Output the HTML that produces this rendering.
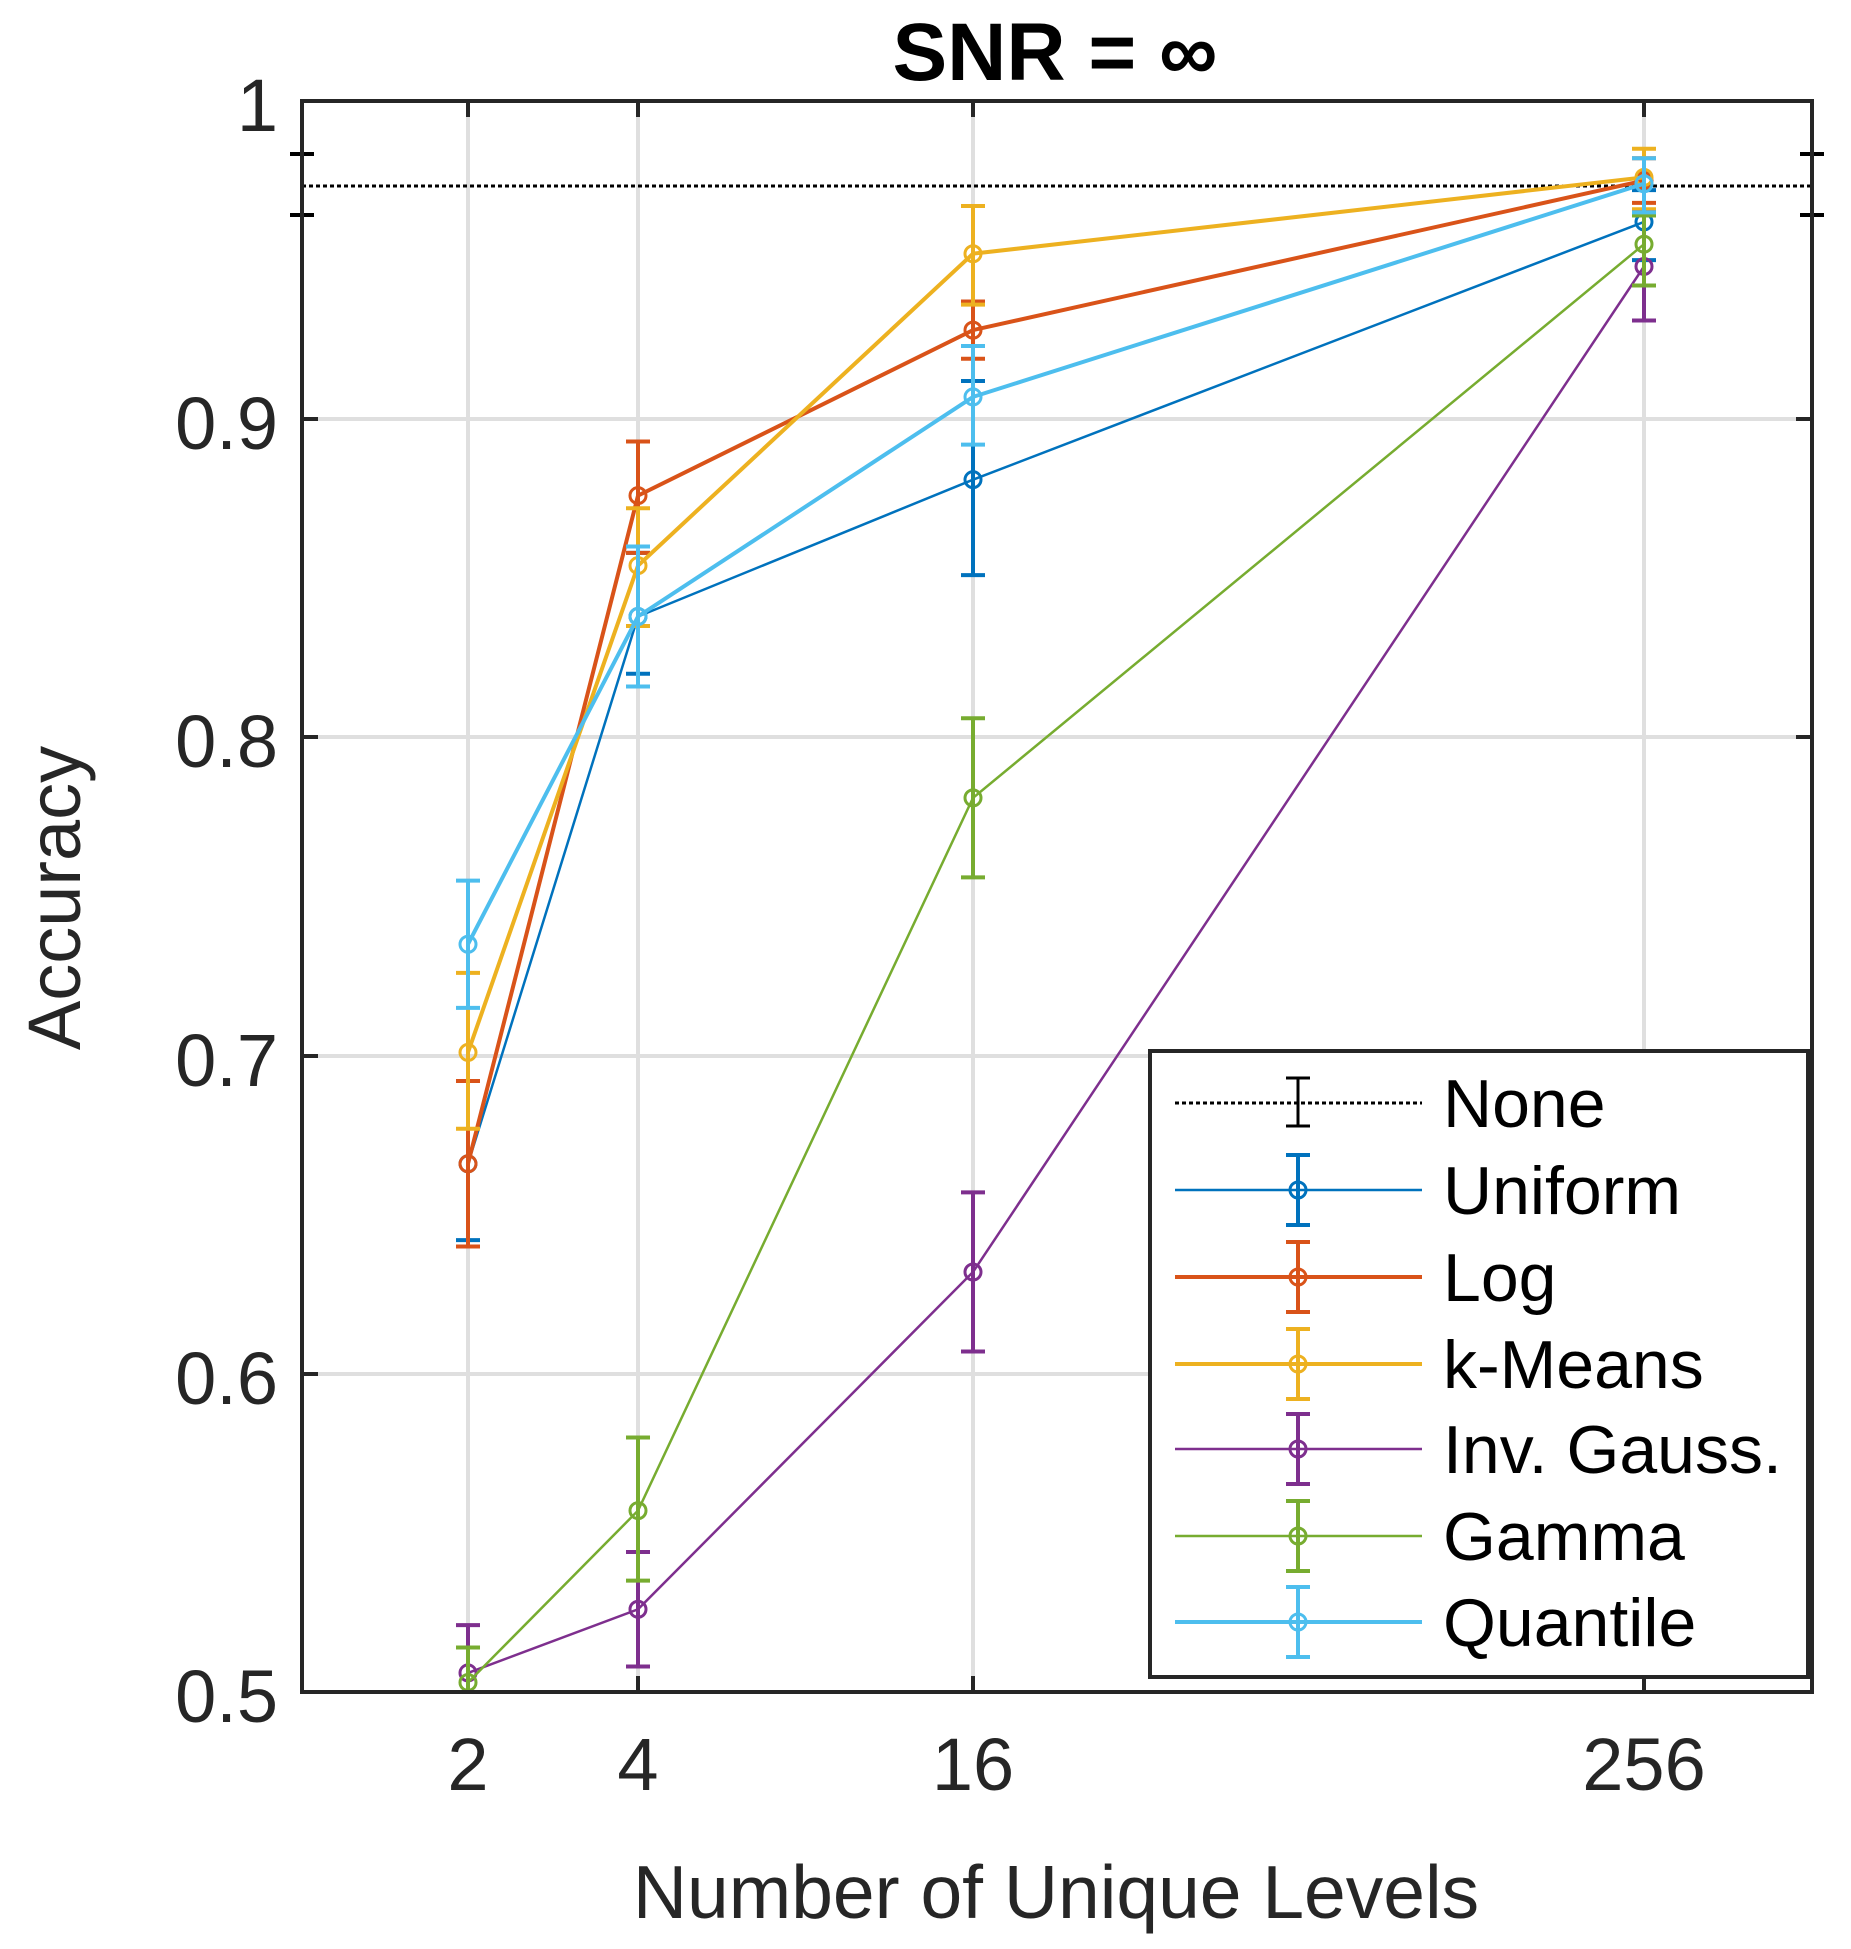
<!DOCTYPE html>
<html><head><meta charset="utf-8"><style>html,body{margin:0;padding:0;background:#fff}svg{display:block}</style></head>
<body>
<svg width="1851" height="1949" viewBox="0 0 1851 1949" xmlns="http://www.w3.org/2000/svg" font-family="Liberation Sans, Arial, sans-serif">
<rect width="1851" height="1949" fill="#fff"/>
<g stroke="#dfdfdf" stroke-width="4">
<line x1="302" x2="1812" y1="419" y2="419"/><line x1="302" x2="1812" y1="737" y2="737"/>
<line x1="302" x2="1812" y1="1056" y2="1056"/><line x1="302" x2="1812" y1="1374" y2="1374"/>
<line x1="468" x2="468" y1="101" y2="1692"/><line x1="638" x2="638" y1="101" y2="1692"/>
<line x1="973" x2="973" y1="101" y2="1692"/><line x1="1644" x2="1644" y1="101" y2="1692"/>
</g>
<g stroke="#262626" stroke-width="4">
<path d="M302 419h16M302 737h16M302 1056h16M302 1374h16M1812 419h-16M1812 737h-16M1812 1056h-16M1812 1374h-16"/>
<path d="M468 101v16M638 101v16M973 101v16M1644 101v16M468 1692v-16M638 1692v-16M973 1692v-16M1644 1692v-16"/>
</g>
<line x1="302" x2="1812" y1="186" y2="186" stroke="#000" stroke-width="3" stroke-dasharray="4 3"/>
<g stroke="#000" stroke-width="4"><path d="M302 154v61M290 154h24M290 215h24M1812 154v61M1800 154h24M1800 215h24"/></g>
<g id="series" fill="none"></g>
<rect x="302" y="101" width="1510" height="1591" fill="none" stroke="#262626" stroke-width="4"/>
<rect x="1150" y="1051" width="658" height="626" fill="#fff" stroke="#262626" stroke-width="4"/>
<g id="legend"></g>
<g fill="#262626" font-size="74" text-anchor="end">
<text x="278" y="131">1</text><text x="278" y="449">0.9</text><text x="278" y="767">0.8</text>
<text x="278" y="1086">0.7</text><text x="278" y="1404">0.6</text><text x="278" y="1722">0.5</text>
</g>
<g fill="#262626" font-size="74" text-anchor="middle">
<text x="468" y="1790">2</text><text x="638" y="1790">4</text><text x="973" y="1790">16</text><text x="1644" y="1790">256</text>
<text x="1056" y="1918" font-size="75">Number of Unique Levels</text>
<text transform="translate(80,898) rotate(-90)" font-size="74">Accuracy</text>
</g>
<text x="1055" y="80" font-size="82" font-weight="bold" text-anchor="middle" fill="#000">SNR = ∞</text>
<g fill="#000" font-size="68">
<text x="1443" y="1127">None</text><text x="1443" y="1214">Uniform</text><text x="1443" y="1301">Log</text>
<text x="1443" y="1388">k-Means</text><text x="1443" y="1473">Inv. Gauss.</text><text x="1443" y="1560">Gamma</text><text x="1443" y="1646">Quantile</text>
</g>
<script>
(function(){
var ns="http://www.w3.org/2000/svg";
var X=[468,638,973,1644];
function Y(v){return 101+(1-v)*3182;}
var S=[
 {c:"#0072BD",w:2.5,d:[[.666,.642,.692],[.838,.820,.858],[.881,.851,.912],[.962,.950,.972]]},
 {c:"#D95319",w:4,d:[[.666,.640,.692],[.876,.858,.893],[.928,.919,.937],[.975,.968,.982]]},
 {c:"#EDB120",w:4,d:[[.701,.677,.726],[.854,.835,.872],[.952,.936,.967],[.976,.966,.985]]},
 {c:"#7E2F8E",w:2.5,d:[[.506,.494,.521],[.526,.508,.544],[.632,.607,.657],[.948,.931,.965]]},
 {c:"#77AC30",w:2.5,d:[[.503,.490,.514],[.557,.535,.580],[.781,.756,.806],[.955,.942,.964]]},
 {c:"#4DBEEE",w:4,d:[[.735,.715,.755],[.838,.816,.860],[.907,.892,.923],[.974,.965,.982]]}
];
var g=document.getElementById("series");
function el(n,a,p){var e=document.createElementNS(ns,n);for(var k in a)e.setAttribute(k,a[k]);p.appendChild(e);return e;}
S.forEach(function(s){
 var pts=s.d.map(function(p,i){return X[i]+","+Y(p[0]).toFixed(1);}).join(" ");
 el("polyline",{points:pts,stroke:s.c,"stroke-width":s.w,fill:"none"},g);
 s.d.forEach(function(p,i){
  var x=X[i],lo=Math.min(Y(p[1]),1692),hi=Y(p[2]);
  el("path",{d:"M"+x+" "+hi+"V"+lo+"M"+(x-12)+" "+hi+"h24M"+(x-12)+" "+lo+"h24",stroke:s.c,"stroke-width":4},g);
  el("circle",{cx:x,cy:Y(p[0]),r:8,stroke:s.c,"stroke-width":3,fill:"none"},g);
 });
});
var L=document.getElementById("legend");
var rows=[1103,1190,1277,1364,1449,1536,1622];
el("line",{x1:1175,x2:1422,y1:rows[0],y2:rows[0],stroke:"#000","stroke-width":3,"stroke-dasharray":"4 3"},L);
el("path",{d:"M1298 1078v48M1286 1078h24M1286 1126h24",stroke:"#000","stroke-width":3},L);
S.forEach(function(s,i){
 var y=rows[i+1];
 el("line",{x1:1175,x2:1422,y1:y,y2:y,stroke:s.c,"stroke-width":s.w},L);
 el("path",{d:"M1298 "+(y-35)+"v70M1286 "+(y-35)+"h24M1286 "+(y+35)+"h24",stroke:s.c,"stroke-width":4},L);
 el("circle",{cx:1298,cy:y,r:8,stroke:s.c,"stroke-width":3,fill:"none"},L);
});
})();
</script>
</svg>
</body></html>
